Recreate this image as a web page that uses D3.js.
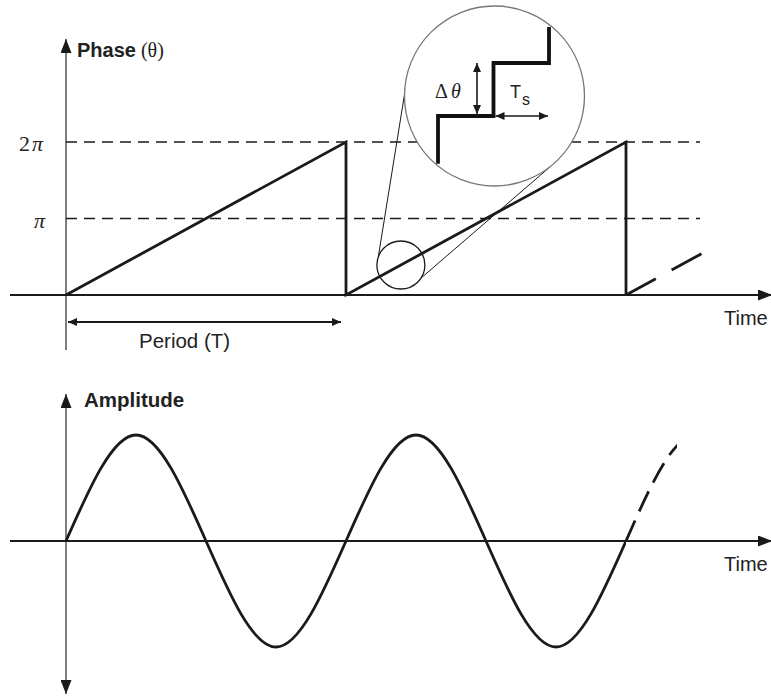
<!DOCTYPE html>
<html>
<head>
<meta charset="utf-8">
<script src="https://cdn.jsdelivr.net/npm/d3@7"></script>
<style>
  body { margin: 0; background: #fff; }
  svg { display: block; }
  .sans { font-family: "Liberation Sans", Arial, Helvetica, sans-serif; fill: #222; }
  .serif { font-family: "Liberation Serif", "Times New Roman", serif; fill: #222; }
</style>
</head>
<body>
<div id="chart"></div>
<script>
/*------------------------------------------*/
/*            Data                          */
/*------------------------------------------*/

var TWO_PI = 2 * Math.PI;

// sawtooth phase: time in periods, phase in radians
var sawTimes  = [0, 1, 1, 2, 2],
    sawPhases = [0, TWO_PI, 0, TWO_PI, 0];

// dashed continuation after the second period
var tailTimes  = [2, 2.275],
    tailPhases = [0, 1.73];

var phaseLevels = [TWO_PI, Math.PI],
    phaseLabels = [["2", "\u03C0"], ["", "\u03C0"]];

// sine amplitude knots (quarter periods)
var sineTimes = [0, 0.25, 0.5, 0.75, 1, 1.25, 1.5, 1.75, 2, 2.25, 2.5],
    sineAmps  = [0, 1, 0, -1, 0, 1, 0, -1, 0, 1, 0];
var sineSolidEnd = 2,
    sineDashEnd = 2.182;

// magnified spot on the second ramp
var zoomTime = 1.196;

// staircase inside the magnifier: step index / phase level
var stairSteps  = [0, 0, 1, 1, 2, 2],
    stairLevels = [0.1, 1, 1, 2, 2, 2.68];

/*------------------------------------------*/
/*            Constants                     */
/*------------------------------------------*/

var W = 771, H = 696;
var axisX = 66,
    phaseAxisY = 295,
    ampAxisY = 541;

var svg = d3.select("#chart").append("svg")
    .attr("width", W)
    .attr("height", H);

var x = d3.scaleLinear().domain([0, 1]).range([axisX, 346]);
var yPhase = d3.scaleLinear().domain([0, TWO_PI]).range([phaseAxisY, 142]);
var yAmp = d3.scaleLinear().domain([-1, 1]).range([647, 435]);

/*------------------------------------------*/
/*            Arrow markers                 */
/*------------------------------------------*/

var defs = svg.append("defs");

function marker(id, len, wid, col) {
  defs.append("marker")
      .attr("id", id)
      .attr("viewBox", "0 0 10 10")
      .attr("refX", 10).attr("refY", 5)
      .attr("markerUnits", "userSpaceOnUse")
      .attr("markerWidth", len).attr("markerHeight", wid)
      .attr("orient", "auto-start-reverse")
      .attr("preserveAspectRatio", "none")
    .append("path")
      .attr("d", "M0,0L10,5L0,10z")
      .attr("fill", col);
}
marker("axisHead", 14, 11, "#1a1a1a");
marker("smallHead", 9, 8, "#1a1a1a");

/*------------------------------------------*/
/*            Axes                          */
/*------------------------------------------*/

// phase chart
svg.append("line")
    .attr("x1", axisX).attr("x2", axisX)
    .attr("y1", 350).attr("y2", 39)
    .attr("stroke", "#555").attr("stroke-width", 1.5)
    .attr("marker-end", "url(#axisHead)");

svg.append("line")
    .attr("x1", 10).attr("x2", 772)
    .attr("y1", phaseAxisY).attr("y2", phaseAxisY)
    .attr("stroke", "#1a1a1a").attr("stroke-width", 2.2)
    .attr("marker-end", "url(#axisHead)");

// amplitude chart
svg.append("line")
    .attr("x1", axisX).attr("x2", axisX)
    .attr("y1", 694).attr("y2", 394)
    .attr("stroke", "#555").attr("stroke-width", 1.5)
    .attr("marker-start", "url(#axisHead)")
    .attr("marker-end", "url(#axisHead)");

svg.append("line")
    .attr("x1", 10).attr("x2", 772)
    .attr("y1", ampAxisY).attr("y2", ampAxisY)
    .attr("stroke", "#1a1a1a").attr("stroke-width", 2.2)
    .attr("marker-end", "url(#axisHead)");

/*------------------------------------------*/
/*            Phase levels                  */
/*------------------------------------------*/

svg.selectAll("line.level")
    .data(phaseLevels)
    .enter().append("line")
    .attr("class", "level")
    .attr("x1", axisX).attr("x2", 700)
    .attr("y1", function(d) { return yPhase(d); })
    .attr("y2", function(d) { return yPhase(d); })
    .attr("stroke", "#1a1a1a").attr("stroke-width", 1.6)
    .attr("stroke-dasharray", "11,7");

var levelText = svg.selectAll("text.level")
    .data(phaseLevels)
    .enter().append("text")
    .attr("class", "level serif")
    .attr("x", 43)
    .attr("y", function(d) { return yPhase(d) + 9; })
    .attr("text-anchor", "end")
    .attr("font-size", "22px");
levelText.append("tspan")
    .text(function(d, i) { return phaseLabels[i][0]; });
levelText.append("tspan")
    .attr("dx", 2)
    .attr("font-style", "italic")
    .text(function(d, i) { return phaseLabels[i][1]; });

/*------------------------------------------*/
/*            Sawtooth                      */
/*------------------------------------------*/

var phaseLine = d3.line()
    .x(function(d) { return x(d[0]); })
    .y(function(d) { return yPhase(d[1]); });

svg.append("path")
    .attr("d", phaseLine(d3.zip(sawTimes, sawPhases)))
    .attr("fill", "none")
    .attr("stroke", "#1a1a1a").attr("stroke-width", 2.8);

svg.append("path")
    .attr("d", phaseLine(d3.zip(tailTimes, tailPhases)))
    .attr("fill", "none")
    .attr("stroke", "#1a1a1a").attr("stroke-width", 2.8)
    .attr("stroke-dasharray", "34,18");

/*------------------------------------------*/
/*            Magnifier                     */
/*------------------------------------------*/

var zx = x(zoomTime),
    zy = yPhase((zoomTime - 1) * TWO_PI),
    zr = 24;
var big = {cx: 494.5, cy: 96, r: 90};

function onCircle(cx, cy, r, deg) {
  var a = deg * Math.PI / 180;
  return [cx + r * Math.cos(a), cy + r * Math.sin(a)];
}

var connectors = [
  [onCircle(zx, zy, zr, 200), onCircle(big.cx, big.cy, big.r, 181)],
  [onCircle(zx, zy, zr, 33), onCircle(big.cx, big.cy, big.r, 51)]
];

svg.selectAll("line.connector")
    .data(connectors)
    .enter().append("line")
    .attr("class", "connector")
    .attr("x1", function(d) { return d[0][0]; })
    .attr("y1", function(d) { return d[0][1]; })
    .attr("x2", function(d) { return d[1][0]; })
    .attr("y2", function(d) { return d[1][1]; })
    .attr("stroke", "#1a1a1a").attr("stroke-width", 1);

svg.append("circle")
    .attr("cx", zx).attr("cy", zy).attr("r", zr)
    .attr("fill", "none")
    .attr("stroke", "#1a1a1a").attr("stroke-width", 1.3);

svg.append("circle")
    .attr("cx", big.cx).attr("cy", big.cy).attr("r", big.r)
    .attr("fill", "#fff")
    .attr("stroke", "#777").attr("stroke-width", 1.3);

var sx = d3.scaleLinear().domain([0, 2]).range([438, 549]),
    sy = d3.scaleLinear().domain([1, 2]).range([116, 63]);

svg.append("path")
    .attr("d", d3.line()
        .x(function(d) { return sx(d[0]); })
        .y(function(d) { return sy(d[1]); })(d3.zip(stairSteps, stairLevels)))
    .attr("fill", "none")
    .attr("stroke", "#111").attr("stroke-width", 3.8)
    .attr("stroke-linejoin", "miter");

// delta theta arrow
svg.append("line")
    .attr("x1", 477).attr("x2", 477)
    .attr("y1", sy(1) - 2).attr("y2", sy(2))
    .attr("stroke", "#1a1a1a").attr("stroke-width", 1.6)
    .attr("marker-start", "url(#smallHead)")
    .attr("marker-end", "url(#smallHead)");

// Ts arrow
svg.append("line")
    .attr("x1", sx(1) + 2).attr("x2", sx(2) - 1)
    .attr("y1", sy(1)).attr("y2", sy(1))
    .attr("stroke", "#1a1a1a").attr("stroke-width", 1.6)
    .attr("marker-start", "url(#smallHead)")
    .attr("marker-end", "url(#smallHead)");

var dt = svg.append("text")
    .attr("class", "serif")
    .attr("x", 435).attr("y", 98)
    .attr("font-size", "20px");
dt.append("tspan").text("\u0394");
dt.append("tspan").attr("dx", 3).attr("font-style", "italic").text("\u03B8");

var ts = svg.append("text")
    .attr("class", "sans")
    .attr("x", 510).attr("y", 98)
    .attr("font-size", "18px");
ts.append("tspan").text("T");
ts.append("tspan").attr("dx", 1).attr("dy", 7).attr("font-size", "16px").text("s");

/*------------------------------------------*/
/*            Period marker                 */
/*------------------------------------------*/

svg.append("line")
    .attr("x1", x(0) + 2).attr("x2", x(1) - 5)
    .attr("y1", 322).attr("y2", 322)
    .attr("stroke", "#1a1a1a").attr("stroke-width", 2)
    .attr("marker-start", "url(#smallHead)")
    .attr("marker-end", "url(#smallHead)");

svg.append("text")
    .attr("class", "sans")
    .attr("x", 139).attr("y", 348)
    .attr("font-size", "20.5px")
    .text("Period (T)");

/*------------------------------------------*/
/*            Sine                          */
/*------------------------------------------*/

var sineLine = d3.line()
    .curve(d3.curveNatural)
    .x(function(d) { return x(d[0]); })
    .y(function(d) { return yAmp(d[1]); });

var sineKnots = d3.zip(sineTimes, sineAmps);

defs.append("clipPath").attr("id", "solidClip")
  .append("rect")
    .attr("x", 0).attr("y", 0)
    .attr("width", x(sineSolidEnd)).attr("height", H);

defs.append("clipPath").attr("id", "dashClip")
  .append("rect")
    .attr("x", x(sineSolidEnd)).attr("y", 0)
    .attr("width", x(sineDashEnd) - x(sineSolidEnd)).attr("height", H);

svg.append("path")
    .attr("d", sineLine(sineKnots))
    .attr("clip-path", "url(#solidClip)")
    .attr("fill", "none")
    .attr("stroke", "#1a1a1a").attr("stroke-width", 2.8);

// dashed tail: same curve from the last solid knot on
svg.append("path")
    .attr("d", sineLine(sineKnots))
    .attr("clip-path", "url(#dashClip)")
    .attr("fill", "none")
    .attr("stroke", "#1a1a1a").attr("stroke-width", 2.8)
    .attr("stroke-dasharray", "22,10")
    .attr("stroke-dashoffset", function() {
      // start the dash pattern where the dashed part begins
      var p = this, len = p.getTotalLength(), lo = 0, hi = len;
      for (var k = 0; k < 40; k++) {
        var mid = (lo + hi) / 2;
        if (p.getPointAtLength(mid).x < x(sineSolidEnd)) lo = mid; else hi = mid;
      }
      return -lo;
    });

/*------------------------------------------*/
/*            Labels                        */
/*------------------------------------------*/

var ph = svg.append("text")
    .attr("x", 77).attr("y", 57);
ph.append("tspan")
    .attr("class", "sans")
    .attr("font-weight", "bold")
    .attr("font-size", "20px")
    .text("Phase");
ph.append("tspan")
    .attr("class", "serif")
    .attr("dx", 5)
    .attr("font-size", "20px")
    .text("(\u03B8)");

svg.append("text")
    .attr("class", "sans")
    .attr("x", 84).attr("y", 407)
    .attr("font-weight", "bold")
    .attr("font-size", "20.5px")
    .text("Amplitude");

svg.selectAll("text.time")
    .data([phaseAxisY + 30, ampAxisY + 30])
    .enter().append("text")
    .attr("class", "time sans")
    .attr("x", 724)
    .attr("y", function(d) { return d; })
    .attr("font-size", "20px")
    .text("Time");
</script>
</body>
</html>
